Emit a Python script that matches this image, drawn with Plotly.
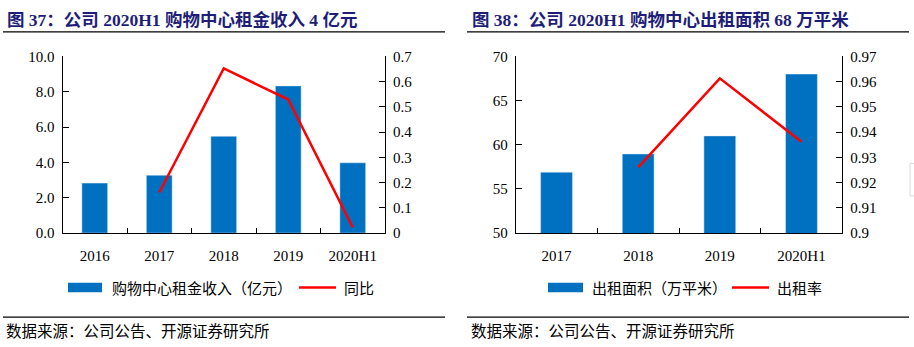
import plotly.graph_objects as go

W, H = 914, 347

# ---- data ----
cats1 = ["2016", "2017", "2018", "2019", "2020H1"]
rent_income = [2.83, 3.28, 5.48, 8.33, 3.98]
rent_yoy = [None, 0.161, 0.652, 0.529, 0.023]

cats2 = ["2017", "2018", "2019", "2020H1"]
leased_area = [56.9, 58.96, 61.0, 68.0]
occupancy = [None, 0.926, 0.9613, 0.9362]

title1 = "图 37：公司 2020H1 购物中心租金收入 4 亿元"
title2 = "图 38：公司 2020H1 购物中心出租面积 68 万平米"
legend1 = ["购物中心租金收入（亿元）", "同比"]
legend2 = ["出租面积（万平米）", "出租率"]
source = "数据来源：公司公告、开源证券研究所"

BLUE = "#0070C0"
RED = "#FF0000"
NAVY = "#1E1E78"
SERIF = "Liberation Serif, 'Noto Sans CJK SC', serif"
CJK = "'Noto Sans CJK SC', sans-serif"


def px(x):
    return x / W


def py(y):
    return 1 - y / H


fig = go.Figure()
fig.add_trace(go.Bar(x=cats1, y=rent_income, marker_color=BLUE, width=0.4,
                     xaxis="x", yaxis="y", showlegend=False))
fig.add_trace(go.Scatter(x=cats1, y=rent_yoy, mode="lines", line=dict(color=RED, width=2.5),
                         xaxis="x", yaxis="y2", showlegend=False))
fig.add_trace(go.Bar(x=cats2, y=leased_area, marker_color=BLUE, width=0.39,
                     xaxis="x2", yaxis="y3", showlegend=False))
fig.add_trace(go.Scatter(x=cats2, y=occupancy, mode="lines", line=dict(color=RED, width=2.5),
                         xaxis="x2", yaxis="y4", showlegend=False))

ydom = [py(236), py(50.7)]
axis_common = dict(showline=True, linecolor="black", linewidth=1, showgrid=False,
                   zeroline=False, ticks="inside", tickcolor="black",
                   tickfont=dict(family=SERIF, size=15, color="black"))

fig.update_layout(
    width=W, height=H, margin=dict(l=0, r=0, t=0, b=0),
    paper_bgcolor="white", plot_bgcolor="white", showlegend=False,
    xaxis=dict(domain=[px(62.5), px(385)], anchor="y", type="category", range=[-0.5, 4.5],
               tickson="boundaries", ticklen=5, ticklabelstandoff=9, **axis_common),
    yaxis=dict(domain=ydom, anchor="x", range=[0, 10], dtick=2, tickformat=".1f", ticklen=6,
               ticklabelstandoff=4, **axis_common),
    yaxis2=dict(overlaying="y", anchor="x", side="right", range=[0, 0.7], dtick=0.1, ticklen=6,
                ticklabelstandoff=4, **axis_common),
    xaxis2=dict(domain=[px(515.7), px(842.3)], anchor="y3", type="category", range=[-0.5, 3.5],
                tickson="boundaries", ticklen=5, ticklabelstandoff=9, **axis_common),
    yaxis3=dict(domain=ydom, anchor="x2", range=[50, 70], dtick=5, ticklen=6,
                ticklabelstandoff=4, **axis_common),
    yaxis4=dict(overlaying="y3", anchor="x2", side="right", range=[0.9, 0.97], dtick=0.01, ticklen=6,
                ticklabelstandoff=4, **axis_common),
)

shapes = []
annots = []

# titles and rules
for (x0, x1, tx, txt) in [(3, 445, 5, title1), (467, 909, 470, title2)]:
    annots.append(dict(x=px(tx), y=py(13), xref="paper", yref="paper", xanchor="left", yanchor="middle",
                       text="<b>" + txt + "</b>", showarrow=False,
                       font=dict(family=SERIF, size=17.5, color=NAVY)))
    shapes.append(dict(type="line", xref="paper", yref="paper", x0=px(x0), x1=px(x1), y0=py(25), y1=py(25),
                       line=dict(color="black", width=1.2)))
    shapes.append(dict(type="line", xref="paper", yref="paper", x0=px(x0), x1=px(x1), y0=py(324), y1=py(324),
                       line=dict(color="black", width=1.2)))
    annots.append(dict(x=px(tx - 1), y=py(338), xref="paper", yref="paper", xanchor="left", yanchor="middle",
                       text=source, showarrow=False, font=dict(family=CJK, size=15.5, color="black")))

# legends
for (rx0, rx1, t1x, lx0, lx1, t2x, labels) in [(68, 102, 110, 299, 336, 342, legend1),
                                               (548, 583, 590, 732, 769, 775, legend2)]:
    shapes.append(dict(type="rect", xref="paper", yref="paper", x0=px(rx0), x1=px(rx1),
                       y0=py(298), y1=py(288), fillcolor=BLUE, line=dict(width=0)))
    shapes.append(dict(type="line", xref="paper", yref="paper", x0=px(lx0), x1=px(lx1),
                       y0=py(293), y1=py(293), line=dict(color=RED, width=2.5)))
    annots.append(dict(x=px(t1x), y=py(293), xref="paper", yref="paper", xanchor="left", yanchor="middle",
                       text=labels[0], showarrow=False, font=dict(family=CJK, size=15, color="black")))
    annots.append(dict(x=px(t2x), y=py(293), xref="paper", yref="paper", xanchor="left", yanchor="middle",
                       text=labels[1], showarrow=False, font=dict(family=CJK, size=15, color="black")))

# small gray artifact at right edge
shapes.append(dict(type="rect", xref="paper", yref="paper", x0=px(910), x1=px(918),
                   y0=py(197), y1=py(163), line=dict(color="#D9D9D9", width=1)))

fig.update_layout(shapes=shapes, annotations=annots)
fig.write_html("out.html")
